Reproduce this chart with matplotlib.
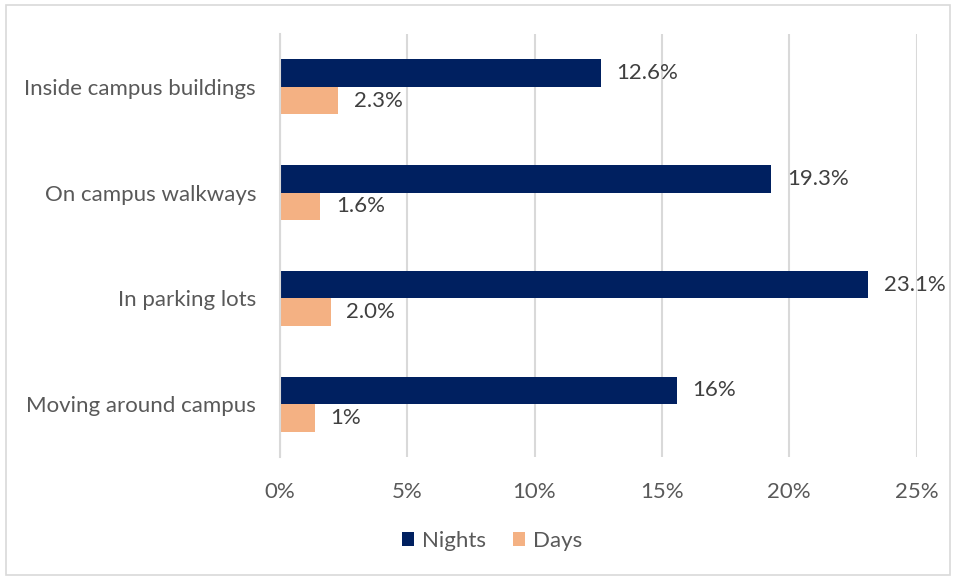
import matplotlib
matplotlib.use('Agg')
import numpy as np
import matplotlib.pyplot as plt
from matplotlib.patches import Rectangle

# Dữ liệu
categories = ['Inside campus buildings', 'On campus walkways', 'In parking lots', 'Moving around campus']
nights = [12.6, 19.3, 23.1, 15.6]
days = [2.3, 1.6, 2.0, 1.4]
night_labels = ['12.6%', '19.3%', '23.1%', '16%']
day_labels = ['2.3%', '1.6%', '2.0%', '1%']
x_ticks = [0, 5, 10, 15, 20, 25]

NAVY = '#002060'
PEACH = '#F4B183'
TXT = '#595959'
FS = 16

plt.rcParams['font.family'] = ['Lato', 'DejaVu Sans']

fig = plt.figure(figsize=(9.56, 5.78), dpi=100)
ax = fig.add_axes([279.7 / 956, 1 - 457 / 578, (916.7 - 279.7) / 956, (457 - 34) / 578])

# Khung viền nhạt quanh hình
fig.patches.append(Rectangle((6 / 956, 3 / 578), 944 / 956, 570 / 578, transform=fig.transFigure,
                             fill=False, edgecolor='#D9D9D9', linewidth=1.2))

y = np.arange(len(categories))[::-1].astype(float)
h = 0.26
b1 = ax.barh(y + h / 2, nights, height=h, color=NAVY, label='Nights')
b2 = ax.barh(y - h / 2, days, height=h, color=PEACH, label='Days')

for bars, labs in [(b1, night_labels), (b2, day_labels)]:
    for bar, lab in zip(bars, labs):
        ax.annotate(lab, (bar.get_width(), bar.get_y() + bar.get_height() / 2),
                    xytext=(11, 0), textcoords='offset points', va='center', ha='left',
                    fontsize=FS, color='#404040')

ax.set_xlim(0, 25)
ax.set_ylim(-0.5, len(categories) - 0.5)
ax.set_xticks(x_ticks)
ax.set_xticklabels([f'{t}%' for t in x_ticks])
ax.set_yticks(y)
ax.set_yticklabels(categories)
ax.tick_params(axis='both', length=0, labelsize=FS, labelcolor=TXT)
ax.tick_params(axis='x', pad=18)
ax.tick_params(axis='y', pad=17)
ax.grid(axis='x', color='#D9D9D9', linewidth=1.5)
ax.set_axisbelow(True)
for s in ['top', 'right', 'bottom']:
    ax.spines[s].set_visible(False)
ax.spines['left'].set_color('#D9D9D9')
ax.spines['left'].set_linewidth(1.5)

fig.legend(handles=[b1, b2], labels=['Nights', 'Days'], loc='center', bbox_to_anchor=(492 / 956, 1 - 541 / 578),
           ncol=2, frameon=False, fontsize=FS, labelcolor=TXT, handlelength=0.55, handleheight=0.55,
           handletextpad=0.35, columnspacing=1.2)

fig.savefig('out.png', dpi=100)
